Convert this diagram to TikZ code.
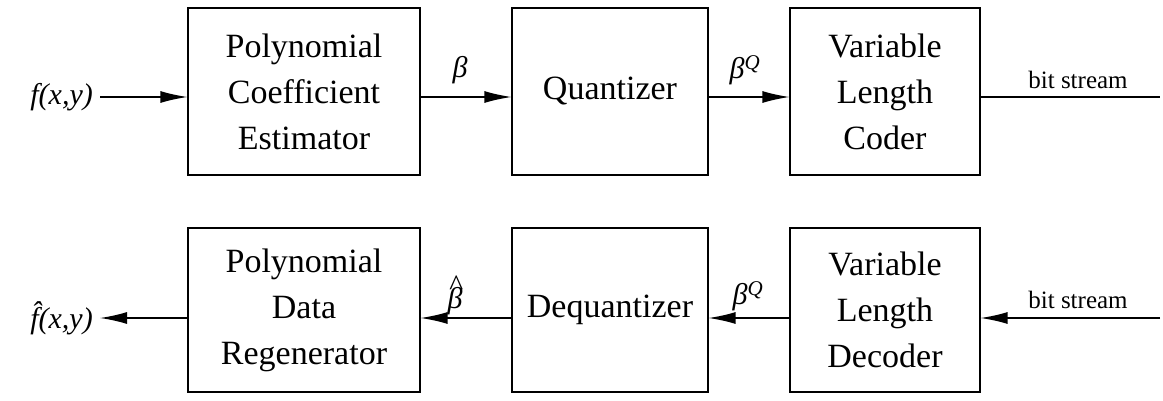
\documentclass[tikz,border=0pt]{standalone}
\usepackage{fontspec}
\setmainfont{Liberation Serif}
\usetikzlibrary{arrows.meta}
\begin{document}
\begin{tikzpicture}[x=1pt,y=-1pt,
  blk/.style={draw,line width=1.2pt,align=center,font=\fontsize{34}{46}\selectfont,inner sep=0pt},
  ar/.style={line width=1.4pt,-{Latex[length=27pt,width=12pt]}},
  lab/.style={font=\fontsize{30}{34}\selectfont\itshape,inner sep=1pt},
  bs/.style={font=\fontsize{25}{28}\selectfont}]
\useasboundingbox (0,0) rectangle (1163,401);
\node[blk,minimum width=232pt,minimum height=167pt] (pce) at (304,91.5) {Polynomial\\Coefficient\\Estimator};
\node[blk,minimum width=196pt,minimum height=167pt] (q) at (610,91.5) {Quantizer};
\node[blk,minimum width=190pt,minimum height=167pt] (vlc) at (885,91.5) {Variable\\Length\\Coder};
\node[blk,minimum width=232pt,minimum height=164pt] (pdr) at (304,310) {Polynomial\\Data\\Regenerator};
\node[blk,minimum width=196pt,minimum height=164pt] (dq) at (610,310) {Dequantizer};
\node[blk,minimum width=190pt,minimum height=164pt] (vld) at (885,310) {Variable\\Length\\Decoder};
\node[lab,anchor=east] (f) at (94,97) {f(x,y)};
\coordinate (bo) at (1160,97);
\coordinate (bi) at (1160,318);
\node[lab,anchor=east] (fh) at (94,318) {f̂(x,y)};
\draw[ar] (f.east)++(6,0) -- (f.east-|pce.west);
\draw[ar] (pce.east|-0,97) -- (q.west|-0,97);
\draw[ar] (q.east|-0,97) -- (vlc.west|-0,97);
\draw[line width=1.4pt] (vlc.east|-0,97) -- (bo);
\draw[ar] (bi) -- (vld.east|-0,318);
\draw[ar] (vld.west|-0,318) -- (dq.east|-0,318);
\draw[ar] (dq.west|-0,318) -- (pdr.east|-0,318);
\draw[ar] (pdr.west|-0,318) -- ([xshift=6pt]fh.east);
\node[lab] (b1) at (460,70) {β};
\node[lab] (b2) at (745,70) {β\textsuperscript{Q}};
\node[bs] (s1) at (1078,80) {bit stream};
\node[lab] (b3) at (455,298) {\ooalign{β\cr\hfil\raisebox{0.42em}{\^{}}\hfil\cr}};
\node[lab] (b4) at (748,296) {β\textsuperscript{Q}};
\node[bs] (s2) at (1078,300) {bit stream};
\end{tikzpicture}
\end{document}
